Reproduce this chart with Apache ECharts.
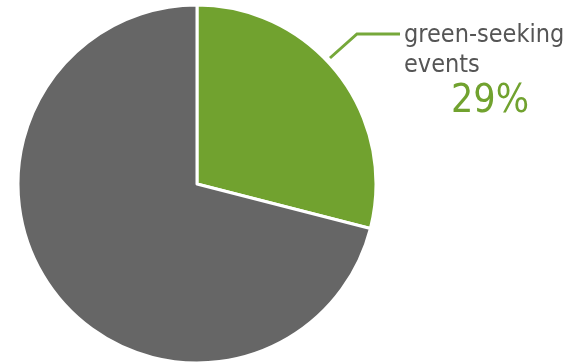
<!DOCTYPE html>
<html>
<head>
<meta charset="utf-8">
<script src="https://cdn.jsdelivr.net/npm/echarts@6/dist/echarts.min.js"></script>
<style>
  html, body { margin: 0; padding: 0; background: #fff; }
  #chart { width: 574px; height: 364px; }
</style>
</head>
<body>
<div id="chart"></div>
<script>
const categories = ['green-seeking events', 'other'];
const values = [29, 71];
const colors = ['#71a22f', '#666666'];

const chart = echarts.init(document.getElementById('chart'));
chart.setOption({
  backgroundColor: '#fff',
  animation: false,
  series: [{
    type: 'pie',
    center: [197, 184],
    radius: 179,
    startAngle: 90,
    clockwise: true,
    itemStyle: { borderColor: '#fff', borderWidth: 3 },
    data: categories.map((c, i) => ({
      name: c,
      value: values[i],
      itemStyle: { color: colors[i] },
      label: i === 0 ? {
        show: true,
        position: 'outside',
        formatter: '{a|green-seeking}\n{a|events}\n{b|' + values[i] + '%}',
        rich: {
          a: { fontFamily: 'DejaVu Sans Condensed', fontSize: 25, color: '#555', lineHeight: 30 },
          b: { fontFamily: 'DejaVu Sans Condensed', fontSize: 39, color: '#71a22f', lineHeight: 44, padding: [0, 0, 0, 47] }
        }
      } : { show: false },
      labelLine: i === 0 ? { show: true, lineStyle: { color: '#76a83a', width: 3 } } : { show: false }
    })),
    labelLayout: function (p) {
      if (p.dataIndex !== 0) return {};
      return {
        x: 404, y: 20, align: 'left', verticalAlign: 'top',
        labelLinePoints: [[330, 58], [357, 34], [400, 34]]
      };
    }
  }]
});
</script>
</body>
</html>
